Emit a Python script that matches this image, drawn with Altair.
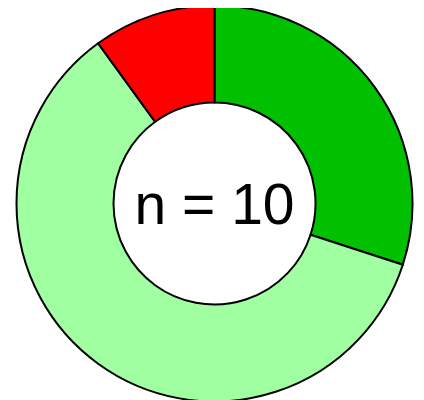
import altair as alt
import pandas as pd

categories = ["A", "B", "C"]
values = [3, 6, 1]
colors = ["#00C000", "#A0FFA0", "#FF0000"]
order = [1, 2, 3]
label = "n = 10"

df = pd.DataFrame({"cat": categories, "value": values, "order": order})

cx, cy = 206.5, 195.5

arcs = alt.Chart(df).mark_arc(
    outerRadius=198, innerRadius=101, stroke="black", strokeWidth=2
).encode(
    theta=alt.Theta("value:Q", stack=True),
    order=alt.Order("order:Q"),
    color=alt.Color("cat:N", scale=alt.Scale(domain=categories, range=colors), legend=None),
    x=alt.value(cx),
    y=alt.value(cy),
)

text = alt.Chart(pd.DataFrame({"t": [label]})).mark_text(
    fontSize=57, font="Arial", color="black", align="center", baseline="middle"
).encode(
    text="t:N",
    x=alt.value(cx),
    y=alt.value(cy + 3),
)

chart = alt.layer(arcs, text).properties(
    width=408, height=392, padding=0, autosize=alt.AutoSizeParams(type="none")
).configure_view(stroke=None)

chart.save("out.html", embed_options={"renderer": "svg", "actions": False})
